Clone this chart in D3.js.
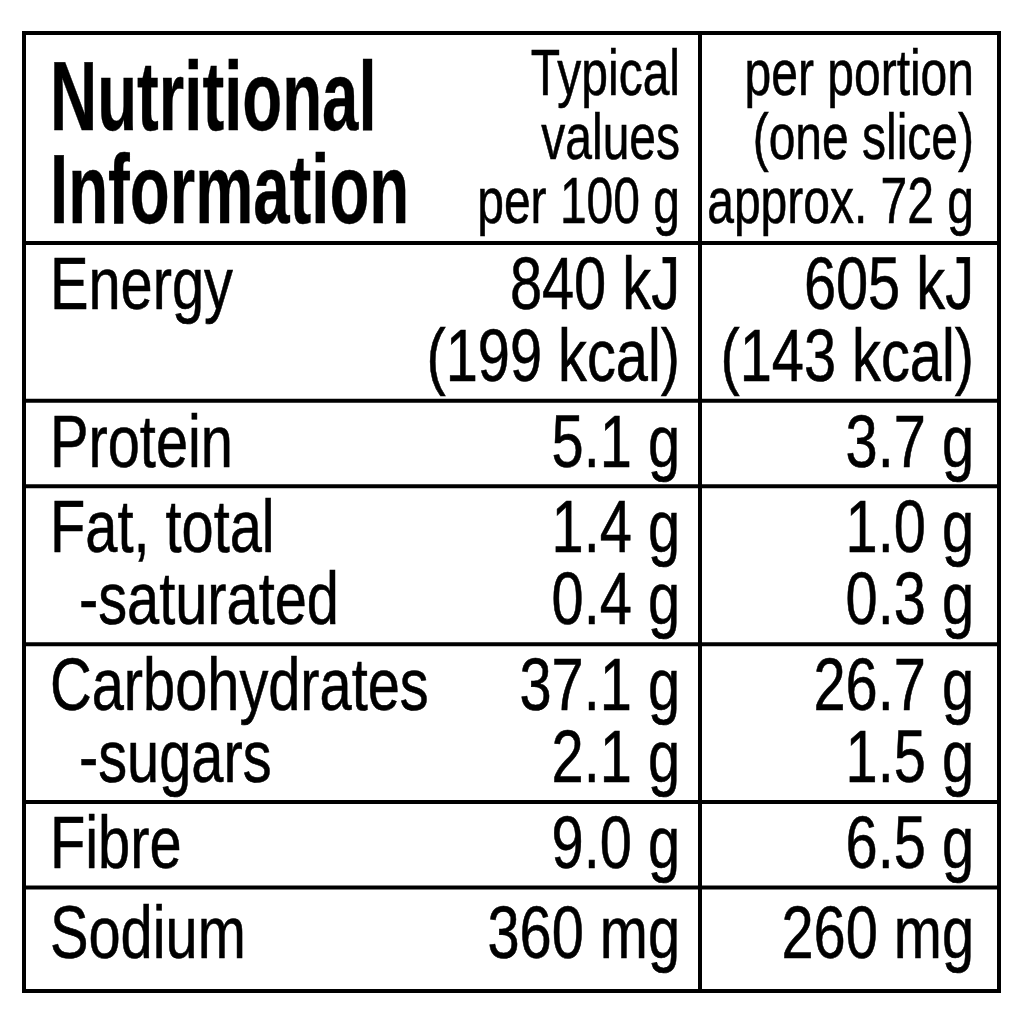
<!DOCTYPE html>
<html>
<head>
<meta charset="utf-8">
<script src="https://cdn.jsdelivr.net/npm/d3@7"></script>
<style>
  html, body { margin: 0; padding: 0; background: #fff; }
  svg { display: block; }
  text { font-family: "Liberation Sans", Arial, sans-serif; fill: #000; stroke: #000; stroke-width: 0.6px; }
  .title { font-weight: bold; stroke-width: 0.4px; }
</style>
</head>
<body>
<svg id="chart"></svg>
<script>
const WIDTH = 1024, HEIGHT = 1024;

// table content
const titleLines = ["Nutritional", "Information"];
const headPer100 = ["Typical", "values", "per 100 g"];
const headPortion = ["per portion", "(one slice)", "approx. 72 g"];
const nutrientRows = [
  ["Energy"],
  ["Protein"],
  ["Fat, total", "-saturated"],
  ["Carbohydrates", "-sugars"],
  ["Fibre"],
  ["Sodium"]
];
const per100g = [
  ["840 kJ", "(199 kcal)"],
  ["5.1 g"],
  ["1.4 g", "0.4 g"],
  ["37.1 g", "2.1 g"],
  ["9.0 g"],
  ["360 mg"]
];
const perPortion = [
  ["605 kJ", "(143 kcal)"],
  ["3.7 g"],
  ["1.0 g", "0.3 g"],
  ["26.7 g", "1.5 g"],
  ["6.5 g"],
  ["260 mg"]
];

const svg = d3.select("#chart").attr("width", WIDTH).attr("height", HEIGHT);

const table = { left: 24, right: 999, top: 33, bottom: 991, divider: 700 };
const headerBottom = 243;
const STROKE = 4;
const FONT = { body: 75, head: 64, title: 99 };
const SQUEEZE = { body: 0.77, head: 0.75, title: 0.66 };
const LINE = { body: 72, head: 64, title: 93 };
const PAD = 0.18; // extra row height, in lines
const LAST_PAD = 0.25; // the bottom row has a little more room

// rows: each takes (lines + PAD) units, mapped onto the body area
const rowLines = nutrientRows.map((r, i) => Math.max(r.length, per100g[i].length));
const isLast = i => i === rowLines.length - 1;
const offsets = [0];
rowLines.forEach((n, i) =>
  offsets.push(offsets[i] + n + PAD + (isLast(i) ? LAST_PAD : 0))
);
const yRow = d3.scaleLinear()
  .domain([0, offsets[offsets.length - 1]])
  .range([headerBottom, table.bottom]);

const x = {
  label: table.left + 26,
  indent: table.left + 55,
  col1: table.divider - 20,
  col2: table.right - 25
};

const addLines = (g, lines, cfg) => {
  g.selectAll(null)
    .data(lines)
    .enter()
    .append("text")
    .attr("class", cfg.cls || null)
    .attr("text-anchor", cfg.anchor)
    .attr("transform", (d, i) => {
      const xx = cfg.anchor === "start" && d.startsWith("-") ? x.indent : cfg.x;
      return `translate(${xx},${cfg.y0 + i * cfg.step}) scale(${cfg.sx},1)`;
    })
    .style("font-size", cfg.size + "px")
    .text(d => d);
};

// header
const head = svg.append("g").attr("class", "header");
addLines(head, titleLines, {
  cls: "title", anchor: "start", x: x.label, y0: table.top + 97,
  step: LINE.title, size: FONT.title, sx: SQUEEZE.title
});
addLines(head, headPer100, {
  anchor: "end", x: x.col1, y0: table.top + 62,
  step: LINE.head, size: FONT.head, sx: SQUEEZE.head
});
addLines(head, headPortion, {
  anchor: "end", x: x.col2, y0: table.top + 62,
  step: LINE.head, size: FONT.head, sx: SQUEEZE.head
});

// body rows
const body = svg.append("g").attr("class", "body");
nutrientRows.forEach((labels, i) => {
  const top = yRow(offsets[i]);
  const cfg = {
    step: LINE.body, size: FONT.body, sx: SQUEEZE.body,
    y0: top + (isLast(i) ? 71 : 66)
  };
  const g = body.append("g").attr("class", "row");
  addLines(g, labels, Object.assign({ anchor: "start", x: x.label }, cfg));
  addLines(g, per100g[i], Object.assign({ anchor: "end", x: x.col1 }, cfg));
  addLines(g, perPortion[i], Object.assign({ anchor: "end", x: x.col2 }, cfg));
});

// grid lines
const grid = svg.append("g").attr("class", "grid")
  .attr("stroke", "#000").attr("stroke-width", STROKE).attr("fill", "none");

grid.selectAll("line.h")
  .data([headerBottom].concat(offsets.slice(1, -1).map(yRow)))
  .enter()
  .append("line")
  .attr("x1", table.left).attr("x2", table.right)
  .attr("y1", d => d).attr("y2", d => d);

grid.append("line")
  .attr("x1", table.divider).attr("x2", table.divider)
  .attr("y1", table.top).attr("y2", table.bottom);

grid.append("rect")
  .attr("x", table.left).attr("y", table.top)
  .attr("width", table.right - table.left)
  .attr("height", table.bottom - table.top);
</script>
</body>
</html>
